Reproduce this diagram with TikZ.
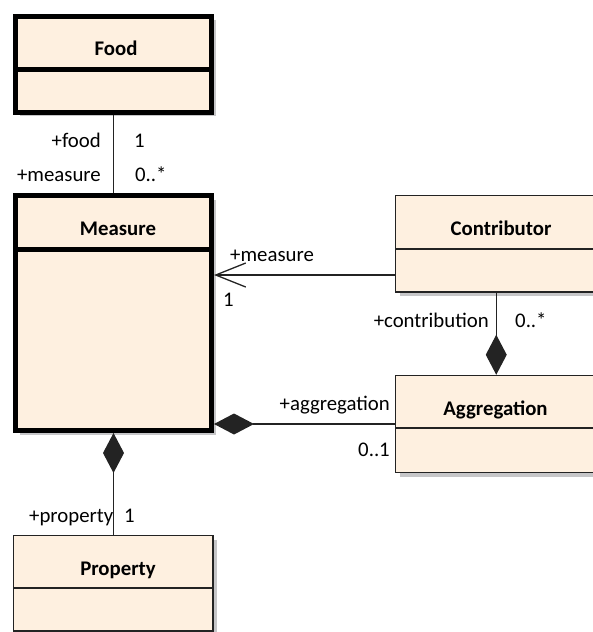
\documentclass[tikz,border=0pt]{standalone}
\usepackage{fontspec}
\setmainfont{Carlito}
\usetikzlibrary{arrows.meta,shadows}

\definecolor{classfill}{RGB}{254,240,224}
\definecolor{edgegray}{RGB}{35,35,35}
\definecolor{shadowgray}{RGB}{198,198,200}

\begin{document}
\begin{tikzpicture}[x=1pt,y=-1pt,
  classbox/.style={rectangle, draw=black, fill=classfill, inner sep=0pt,
    drop shadow={shadow xshift=4pt, shadow yshift=-4pt, fill=shadowgray, opacity=1}},
  heavy/.style={line width=5pt},
  light/.style={line width=1.5pt, draw=edgegray},
  title/.style={font=\bfseries\fontsize{20.8}{25}\selectfont, inner sep=0pt, anchor=base},
  role/.style={font=\fontsize{20.8}{25}\selectfont, inner sep=0pt},
  assoc/.style={line width=1.3pt, draw=edgegray},
  compdiamond/.tip={Diamond[length=40pt, width=21pt]},
  navopen/.tip={Straight Barb[length=30pt, width=24pt]}]

\useasboundingbox (0,0) rectangle (592,632);

% class boxes
\node[classbox, heavy, minimum width=196pt, minimum height=96pt] (food) at (113.5,64) {};
\node[classbox, heavy, minimum width=196pt, minimum height=235pt] (measure) at (113.5,313) {};
\node[classbox, light, minimum width=201.5pt, minimum height=96.5pt] (contributor) at (496.25,243.75) {};
\node[classbox, light, minimum width=201.5pt, minimum height=97pt] (aggregation) at (496.25,424) {};
\node[classbox, light, minimum width=199.5pt, minimum height=95.5pt] (property) at (113.25,583.25) {};

% compartment dividers
\draw[heavy] (15.5,69) -- (211.5,69);
\draw[heavy] (15.5,249) -- (211.5,249);
\draw[light] (395.5,249) -- (597,249);
\draw[light] (395.5,428) -- (597,428);
\draw[light] (13.5,588) -- (213,588);

% class names
\node[title] (foodname) at (116,55) {Food};
\node[title] (measurename) at (118,235) {Measure};
\node[title] (contributorname) at (501,235) {Contributor};
\node[title] (aggregationname) at (495.5,415) {Aggregation};
\node[title] (propertyname) at (118,575) {Property};

% associations
\draw[assoc] (food.south) -- (measure.north);
\draw[assoc, -navopen] ([yshift=-31.25pt]contributor.west) -- ([yshift=-31.25pt]contributor.west -| measure.east);
\draw[assoc, -compdiamond] (contributor.south) -- (aggregation.north);
\draw[assoc, -compdiamond] (aggregation.west) -- (aggregation.west -| measure.east);
\draw[assoc, compdiamond-] (measure.south) -- (measure.south |- property.north);

% role names and multiplicities
\node[role, anchor=base east] (rfood) at (101,147) {+food};
\node[role, anchor=base west] (mfood) at (134,147) {1};
\node[role, anchor=base east] (rmeasure) at (101,181.5) {+measure};
\node[role, anchor=base west] (mmeasure) at (135,181.5) {0..*};
\node[role, anchor=base west] (rcmeasure) at (230,261) {+measure};
\node[role, anchor=base west] (mcmeasure) at (223,306.5) {1};
\node[role, anchor=base east] (rcontrib) at (489,327) {+contribution};
\node[role, anchor=base west] (mcontrib) at (515,327) {0..*};
\node[role, anchor=base east] (raggr) at (390,410) {+aggregation};
\node[role, anchor=base east] (maggr) at (390,456.5) {0..1};
\node[role, anchor=base west] (rprop) at (29,522) {+property};
\node[role, anchor=base west] (mprop) at (124,522) {1};

\end{tikzpicture}
\end{document}
